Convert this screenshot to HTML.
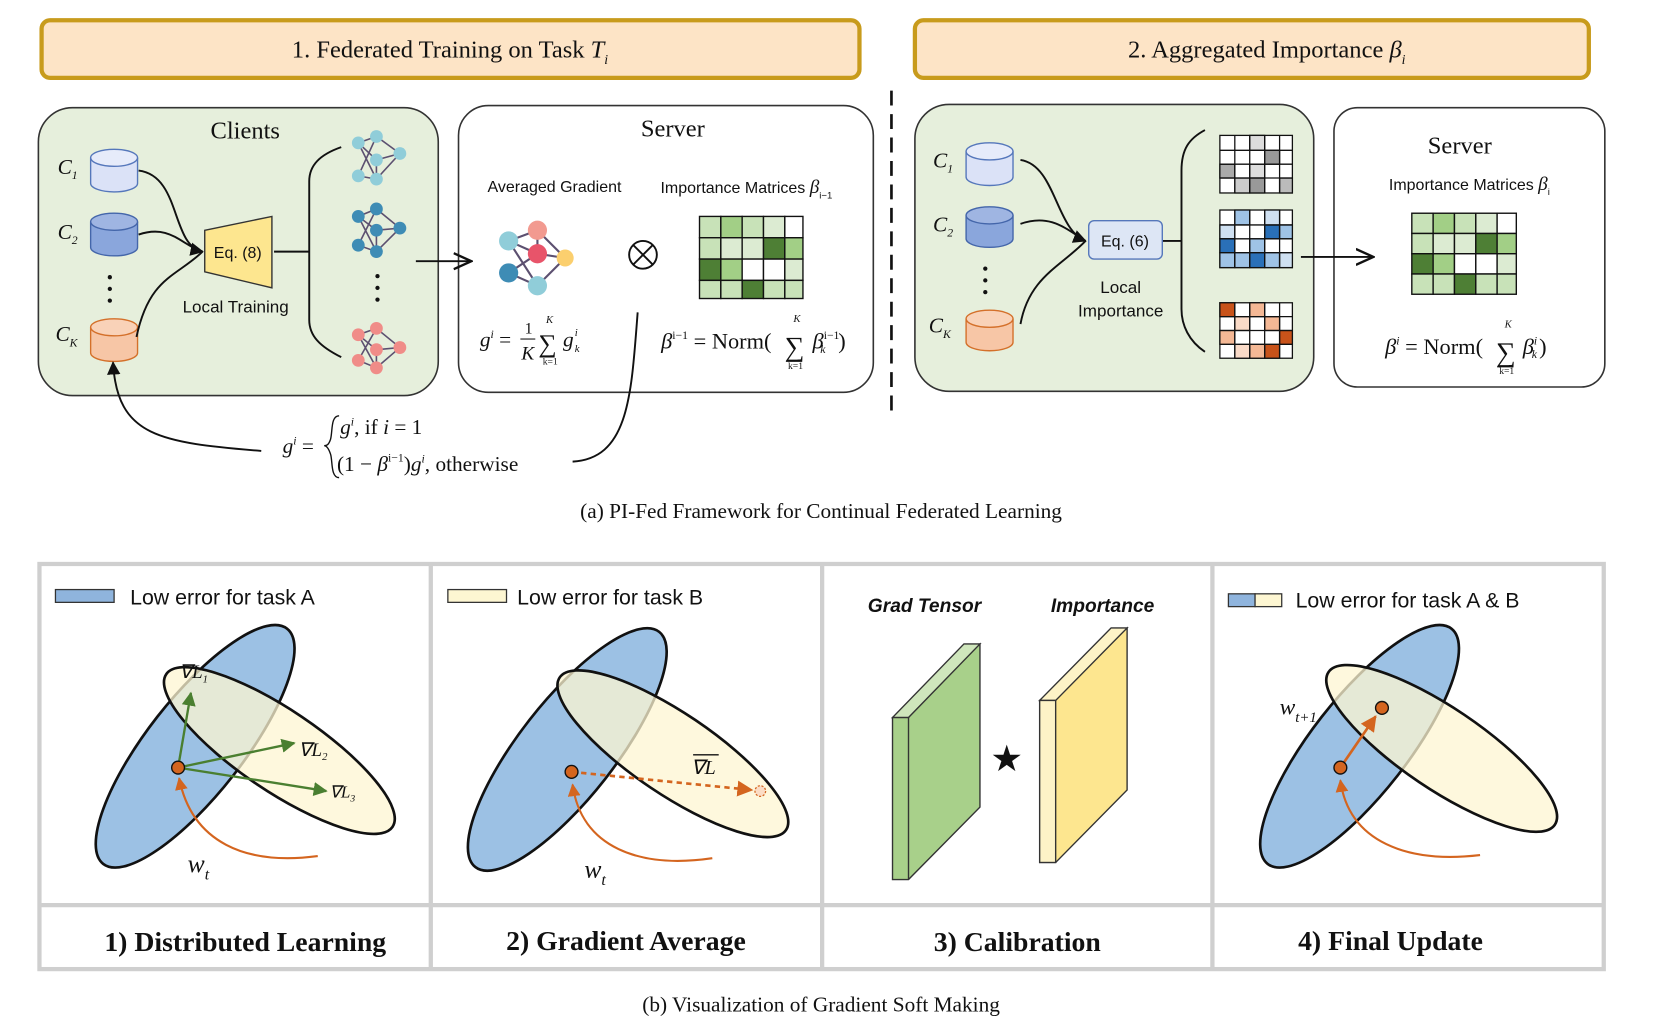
<!DOCTYPE html>
<html><head><meta charset="utf-8"><style>
html,body{margin:0;padding:0;background:#fff;}
svg{display:block;}
text{font-family:"Liberation Serif",serif;fill:#111;}
.s{font-family:"Liberation Sans",sans-serif;}
</style></head><body>
<svg width="1672" height="1032" viewBox="0 0 1568 968" preserveAspectRatio="none" xmlns="http://www.w3.org/2000/svg">
<defs>
<marker id="ah" viewBox="0 0 10 10" refX="9" refY="5" markerWidth="7" markerHeight="7" orient="auto"><path d="M0,0L10,5L0,10z" fill="#111"/></marker>
<marker id="ao" viewBox="0 0 10 10" refX="9" refY="5" markerWidth="6" markerHeight="6" orient="auto"><path d="M0,0L10,5L0,10z" fill="#d4651f"/></marker>
<marker id="ag" viewBox="0 0 10 10" refX="9" refY="5" markerWidth="6" markerHeight="6" orient="auto"><path d="M0,0L10,5L0,10z" fill="#4a7f30"/></marker>
<marker id="oa" viewBox="0 0 12 10" refX="11" refY="5" markerWidth="10" markerHeight="10" orient="auto"><path d="M0,0L11,5L0,10" fill="none" stroke="#111" stroke-width="1.5"/></marker>
</defs>
<!-- headers -->
<rect x="39" y="19" width="767" height="54" rx="8" fill="#fde4c6" stroke="#c89b1c" stroke-width="4"/>
<text x="422" y="54" font-size="23" text-anchor="middle">1. Federated Training on Task <tspan font-style="italic">T</tspan><tspan font-style="italic" font-size="13" dy="6">i</tspan></text>
<rect x="858" y="19" width="632" height="54" rx="8" fill="#fde4c6" stroke="#c89b1c" stroke-width="4"/>
<text x="1188" y="54" font-size="23" text-anchor="middle">2. Aggregated Importance <tspan font-style="italic">β</tspan><tspan font-style="italic" font-size="13" dy="6">i</tspan></text>
<line x1="836" y1="85" x2="836" y2="390" stroke="#111" stroke-width="2.5" stroke-dasharray="14,8"/>

<!-- clients box -->
<rect x="36" y="101" width="375" height="270" rx="32" fill="#e6efdc" stroke="#333" stroke-width="1.5"/>
<text x="230" y="130" font-size="23" text-anchor="middle">Clients</text>
<g font-style="italic" font-size="20">
<text x="54" y="163">C<tspan font-size="11" dy="5">1</tspan></text>
<text x="54" y="224">C<tspan font-size="11" dy="5">2</tspan></text>
<text x="52" y="320">C<tspan font-size="11" dy="5">K</tspan></text>
</g>
<g stroke-width="1.3">
<path d="M85,148v24a22,8 0 0 0 44,0v-24" fill="#dbe2f7" stroke="#5577bb"/><ellipse cx="107" cy="148" rx="22" ry="8" fill="#e6ebfa" stroke="#5577bb"/>
<path d="M85,208v24a22,8 0 0 0 44,0v-24" fill="#8aa6dc" stroke="#4466aa"/><ellipse cx="107" cy="208" rx="22" ry="8" fill="#9fb5e2" stroke="#4466aa"/>
<path d="M85,307v24a22,8 0 0 0 44,0v-24" fill="#f7c6a6" stroke="#d4702a"/><ellipse cx="107" cy="307" rx="22" ry="8" fill="#f9d2b8" stroke="#d4702a"/>
</g>
<g fill="#111"><circle cx="103" cy="260" r="2"/><circle cx="103" cy="271" r="2"/><circle cx="103" cy="282" r="2"/></g>
<g fill="none" stroke="#111" stroke-width="1.8">
<path d="M130,160C170,165 160,230 190,236" marker-end="url(#ah)"/>
<path d="M130,220C160,210 170,230 190,236"/>
<path d="M128,316C140,260 165,260 190,236"/>
<line x1="257" y1="236" x2="290" y2="236"/>
<path d="M320,138C300,145 290,155 290,170V300C290,315 300,325 320,335"/>
</g>
<polygon points="192,216 255,203 255,270 192,255" fill="#fde68f" stroke="#333" stroke-width="1.3"/>
<text x="223" y="242" font-size="15" class="s" text-anchor="middle">Eq. (8)</text>
<text x="221" y="293" font-size="16" class="s" fill="#333" text-anchor="middle">Local Training</text>
<!-- networks -->
<g stroke="#5c5070" stroke-width="1.5" fill="none">
<path d="M336,134L353,128L336,165L353,168L336,134L353,150L375,144L353,128M353,150L353,168L375,144"/>
<path d="M336,203L353,196L336,230L353,236L336,203L353,216L375,214L353,196M353,216L353,236L375,214"/>
<path d="M336,314L353,308L336,338L353,345L336,314L353,328L375,326L353,308M353,328L353,345L375,326"/>
</g>
<g fill="#90cdd9"><circle cx="336" cy="134" r="6"/><circle cx="353" cy="128" r="6"/><circle cx="336" cy="165" r="6"/><circle cx="353" cy="168" r="6"/><circle cx="353" cy="150" r="6"/><circle cx="375" cy="144" r="6"/></g>
<g fill="#3e8cb5"><circle cx="336" cy="203" r="6"/><circle cx="353" cy="196" r="6"/><circle cx="336" cy="230" r="6"/><circle cx="353" cy="236" r="6"/><circle cx="353" cy="216" r="6"/><circle cx="375" cy="214" r="6"/></g>
<g fill="#f08c88"><circle cx="336" cy="314" r="6"/><circle cx="353" cy="308" r="6"/><circle cx="336" cy="338" r="6"/><circle cx="353" cy="345" r="6"/><circle cx="353" cy="328" r="6"/><circle cx="375" cy="326" r="6"/></g>
<g fill="#111"><circle cx="354" cy="259" r="2"/><circle cx="354" cy="270" r="2"/><circle cx="354" cy="281" r="2"/></g>

<!-- server box -->
<rect x="430" y="99" width="389" height="269" rx="28" fill="#fff" stroke="#333" stroke-width="1.5"/>
<line x1="390" y1="245" x2="442" y2="245" stroke="#111" stroke-width="1.8" marker-end="url(#oa)"/>
<text x="631" y="128" font-size="23" text-anchor="middle">Server</text>
<text x="520" y="180" font-size="15" class="s" text-anchor="middle">Averaged Gradient</text>
<text x="700" y="181" font-size="15" class="s" text-anchor="middle">Importance Matrices <tspan font-family="Liberation Serif" font-style="italic" font-size="18">β</tspan><tspan font-size="9" dy="5">i−1</tspan></text>
<g stroke="#5c5070" stroke-width="2" fill="none"><path d="M477,226L504,216L504,238L477,256L504,268L530,242L504,216M477,226L504,268M477,256L504,238L530,242M477,226L504,238"/></g>
<circle cx="477" cy="226" r="9" fill="#90cdd9"/><circle cx="504" cy="216" r="9" fill="#f29a90"/><circle cx="504" cy="238" r="9" fill="#e8546a"/><circle cx="530" cy="242" r="8" fill="#fbcf6e"/><circle cx="477" cy="256" r="9" fill="#3e8cb5"/><circle cx="504" cy="268" r="9" fill="#90cdd9"/>
<circle cx="603" cy="239" r="13" fill="none" stroke="#111" stroke-width="1.8"/><path d="M594,230L612,248M612,230L594,248" stroke="#111" stroke-width="1.8"/>
<g stroke="#111" stroke-width="1.3">
<rect x="656" y="203" width="20" height="20" fill="#c8e2b8"/><rect x="676" y="203" width="20" height="20" fill="#a2cf86"/><rect x="696" y="203" width="20" height="20" fill="#c8e2b8"/><rect x="716" y="203" width="20" height="20" fill="#dcebd2"/><rect x="736" y="203" width="17" height="20" fill="#fff"/>
<rect x="656" y="223" width="20" height="20" fill="#c8e2b8"/><rect x="676" y="223" width="20" height="20" fill="#dcebd2"/><rect x="696" y="223" width="20" height="20" fill="#dcebd2"/><rect x="716" y="223" width="20" height="20" fill="#4e7f35"/><rect x="736" y="223" width="17" height="20" fill="#a2cf86"/>
<rect x="656" y="243" width="20" height="20" fill="#4e7f35"/><rect x="676" y="243" width="20" height="20" fill="#a2cf86"/><rect x="696" y="243" width="20" height="20" fill="#fff"/><rect x="716" y="243" width="20" height="20" fill="#fff"/><rect x="736" y="243" width="17" height="20" fill="#dcebd2"/>
<rect x="656" y="263" width="20" height="17" fill="#c8e2b8"/><rect x="676" y="263" width="20" height="17" fill="#c8e2b8"/><rect x="696" y="263" width="20" height="17" fill="#4e7f35"/><rect x="716" y="263" width="20" height="17" fill="#c8e2b8"/><rect x="736" y="263" width="17" height="17" fill="#c8e2b8"/>
</g>
<text x="450" y="325" font-size="20"><tspan font-style="italic">g</tspan><tspan font-size="11" dy="-8" font-style="italic">i</tspan><tspan dy="8"> = </tspan></text>
<text x="492" y="313" font-size="15">1</text><line x1="488" y1="318" x2="502" y2="318" stroke="#111"/><text x="489" y="337" font-size="18" font-style="italic">K</text>
<text x="505" y="330" font-size="24">∑</text><text x="512" y="303" font-size="10" font-style="italic">K</text><text x="509" y="342" font-size="9">k=1</text>
<text x="528" y="325" font-size="20" font-style="italic">g</text><text x="539" y="315" font-size="10" font-style="italic">i</text><text x="539" y="330" font-size="10" font-style="italic">k</text>
<text x="620" y="327" font-size="21"><tspan font-style="italic">β</tspan><tspan font-size="11" dy="-9">i−1</tspan><tspan dy="9"> = Norm(</tspan></text>
<text x="736" y="334" font-size="26">∑</text><text x="744" y="302" font-size="10" font-style="italic">K</text><text x="739" y="346" font-size="9">k=1</text>
<text x="762" y="327" font-size="21"><tspan font-style="italic">β</tspan><tspan font-size="11" dy="-9">i−1</tspan><tspan font-size="11" dy="13" dx="-18" font-style="italic">k</tspan><tspan dy="-4" dx="12">)</tspan></text>
<!-- feedback -->
<g fill="none" stroke="#111" stroke-width="1.8">
<path d="M598,293C592,370 590,430 537,433"/>
<path d="M245,423C150,415 110,410 106,340" marker-end="url(#ah)"/>
</g>
<text x="265" y="425" font-size="20"><tspan font-style="italic">g</tspan><tspan font-size="11" dy="-8" font-style="italic">i</tspan><tspan dy="8"> =</tspan></text>
<path d="M318,390C310,390 312,405 310,412C308,418 306,418 304,418C306,418 308,420 310,426C312,432 310,448 318,448" fill="none" stroke="#111" stroke-width="1.3"/>
<text x="319" y="407" font-size="20"><tspan font-style="italic">g</tspan><tspan font-size="11" dy="-8" font-style="italic">i</tspan><tspan dy="8">,    if </tspan><tspan font-style="italic">i</tspan> = 1</text>
<text x="316" y="442" font-size="20">(1 − <tspan font-style="italic">β</tspan><tspan font-size="11" dy="-9">i−1</tspan><tspan dy="9">)</tspan><tspan font-style="italic">g</tspan><tspan font-size="11" dy="-8" font-style="italic">i</tspan><tspan dy="8">,    otherwise</tspan></text>
<text x="770" y="486" font-size="20" text-anchor="middle">(a)  PI-Fed Framework for Continual Federated Learning</text>

<!-- right green box -->
<rect x="858" y="98" width="374" height="269" rx="32" fill="#e6efdc" stroke="#333" stroke-width="1.5"/>
<g font-style="italic" font-size="20">
<text x="875" y="157">C<tspan font-size="11" dy="5">1</tspan></text>
<text x="875" y="217">C<tspan font-size="11" dy="5">2</tspan></text>
<text x="871" y="312">C<tspan font-size="11" dy="5">K</tspan></text>
</g>
<g stroke-width="1.3">
<path d="M906,142v24a22,8 0 0 0 44,0v-24" fill="#dbe2f7" stroke="#5577bb"/><ellipse cx="928" cy="142" rx="22" ry="8" fill="#e6ebfa" stroke="#5577bb"/>
<path d="M906,202v22a22,8 0 0 0 44,0v-22" fill="#8aa6dc" stroke="#4466aa"/><ellipse cx="928" cy="202" rx="22" ry="8" fill="#9fb5e2" stroke="#4466aa"/>
<path d="M906,299v22a22,8 0 0 0 44,0v-22" fill="#f7c6a6" stroke="#d4702a"/><ellipse cx="928" cy="299" rx="22" ry="8" fill="#f9d2b8" stroke="#d4702a"/>
</g>
<g fill="#111"><circle cx="924" cy="252" r="2"/><circle cx="924" cy="263" r="2"/><circle cx="924" cy="274" r="2"/></g>
<g fill="none" stroke="#111" stroke-width="1.8">
<path d="M957,150C990,155 990,215 1018,226" marker-end="url(#ah)"/>
<path d="M957,210C985,200 1000,215 1018,226"/>
<path d="M957,304C965,260 995,250 1018,226"/>
<line x1="1090" y1="226" x2="1108" y2="226"/>
<path d="M1130,122C1115,130 1108,140 1108,160V290C1108,305 1115,320 1130,330"/>
</g>
<rect x="1021" y="207" width="69" height="36" rx="5" fill="#dde6f5" stroke="#5577bb" stroke-width="1.3"/>
<text x="1055" y="231" font-size="15" class="s" text-anchor="middle">Eq. (6)</text>
<text x="1051" y="275" font-size="16" class="s" fill="#333" text-anchor="middle">Local</text>
<text x="1051" y="297" font-size="16" class="s" fill="#333" text-anchor="middle">Importance</text>
<!-- small grids -->
<g stroke="#111" stroke-width="1.2">
<rect x="1144" y="127" width="68" height="54" fill="#fff"/>
<rect x="1186" y="141" width="14" height="13" fill="#999"/><rect x="1144" y="154" width="14" height="13" fill="#aaa"/><rect x="1172" y="154" width="14" height="13" fill="#ddd"/><rect x="1158" y="167" width="14" height="14" fill="#ccc"/><rect x="1172" y="167" width="14" height="14" fill="#999"/><rect x="1200" y="167" width="12" height="14" fill="#bbb"/><rect x="1172" y="127" width="14" height="14" fill="#ddd"/>
<rect x="1144" y="197" width="68" height="54" fill="#fff"/>
<rect x="1158" y="197" width="14" height="14" fill="#9fc3e6"/><rect x="1144" y="211" width="14" height="13" fill="#cfe0f1"/><rect x="1186" y="211" width="14" height="13" fill="#2a70b8"/><rect x="1200" y="211" width="12" height="13" fill="#9fc3e6"/><rect x="1144" y="224" width="14" height="13" fill="#2a70b8"/><rect x="1172" y="224" width="14" height="13" fill="#9fc3e6"/><rect x="1144" y="237" width="14" height="14" fill="#9fc3e6"/><rect x="1158" y="237" width="14" height="14" fill="#9fc3e6"/><rect x="1172" y="237" width="14" height="14" fill="#2a70b8"/><rect x="1186" y="237" width="14" height="14" fill="#9fc3e6"/><rect x="1200" y="237" width="12" height="14" fill="#cfe0f1"/><rect x="1186" y="197" width="14" height="14" fill="#cfe0f1"/>
<rect x="1144" y="284" width="68" height="52" fill="#fff"/>
<rect x="1144" y="284" width="14" height="13" fill="#c8531a"/><rect x="1172" y="284" width="14" height="13" fill="#f4b895"/><rect x="1158" y="297" width="14" height="13" fill="#fadbc8"/><rect x="1186" y="297" width="14" height="13" fill="#f4b895"/><rect x="1144" y="310" width="14" height="13" fill="#f4b895"/><rect x="1200" y="310" width="12" height="13" fill="#c8531a"/><rect x="1172" y="323" width="14" height="13" fill="#f4b895"/><rect x="1186" y="323" width="14" height="13" fill="#c8531a"/><rect x="1158" y="323" width="14" height="13" fill="#fadbc8"/>
<path d="M1158,127V181M1172,127V181M1186,127V181M1200,127V181M1144,141H1212M1144,154H1212M1144,167H1212"/>
<path d="M1158,197V251M1172,197V251M1186,197V251M1200,197V251M1144,211H1212M1144,224H1212M1144,237H1212"/>
<path d="M1158,284V336M1172,284V336M1186,284V336M1200,284V336M1144,297H1212M1144,310H1212M1144,323H1212"/>
</g>
<!-- server 2 -->
<rect x="1251" y="101" width="254" height="262" rx="22" fill="#fff" stroke="#333" stroke-width="1.5"/>
<line x1="1220" y1="241" x2="1288" y2="241" stroke="#111" stroke-width="1.8" marker-end="url(#oa)"/>
<text x="1369" y="144" font-size="23" text-anchor="middle">Server</text>
<text x="1378" y="178" font-size="15" class="s" text-anchor="middle">Importance Matrices <tspan font-family="Liberation Serif" font-style="italic" font-size="18">β</tspan><tspan font-size="9" dy="5">i</tspan></text>
<g stroke="#111" stroke-width="1.3">
<rect x="1324" y="200" width="20" height="19" fill="#c8e2b8"/><rect x="1344" y="200" width="20" height="19" fill="#a2cf86"/><rect x="1364" y="200" width="20" height="19" fill="#c8e2b8"/><rect x="1384" y="200" width="20" height="19" fill="#dcebd2"/><rect x="1404" y="200" width="18" height="19" fill="#fff"/>
<rect x="1324" y="219" width="20" height="19" fill="#c8e2b8"/><rect x="1344" y="219" width="20" height="19" fill="#dcebd2"/><rect x="1364" y="219" width="20" height="19" fill="#dcebd2"/><rect x="1384" y="219" width="20" height="19" fill="#4e7f35"/><rect x="1404" y="219" width="18" height="19" fill="#a2cf86"/>
<rect x="1324" y="238" width="20" height="19" fill="#4e7f35"/><rect x="1344" y="238" width="20" height="19" fill="#a2cf86"/><rect x="1364" y="238" width="20" height="19" fill="#fff"/><rect x="1384" y="238" width="20" height="19" fill="#fff"/><rect x="1404" y="238" width="18" height="19" fill="#dcebd2"/>
<rect x="1324" y="257" width="20" height="19" fill="#c8e2b8"/><rect x="1344" y="257" width="20" height="19" fill="#c8e2b8"/><rect x="1364" y="257" width="20" height="19" fill="#4e7f35"/><rect x="1384" y="257" width="20" height="19" fill="#c8e2b8"/><rect x="1404" y="257" width="18" height="19" fill="#c8e2b8"/>
</g>
<text x="1299" y="332" font-size="21"><tspan font-style="italic">β</tspan><tspan font-size="11" dy="-9" font-style="italic">i</tspan><tspan dy="9"> = Norm(</tspan></text>
<text x="1403" y="339" font-size="26">∑</text><text x="1411" y="307" font-size="10" font-style="italic">K</text><text x="1406" y="351" font-size="9">k=1</text>
<text x="1428" y="332" font-size="21"><tspan font-style="italic">β</tspan><tspan font-size="11" dy="-9" font-style="italic">i</tspan><tspan font-size="11" dy="13" dx="-5" font-style="italic">k</tspan><tspan dy="-4" dx="2">)</tspan></text>

<!-- bottom panels -->
<rect x="37" y="529" width="1467" height="380" fill="#fff" stroke="#cfcfcf" stroke-width="4"/>
<g stroke="#cfcfcf" stroke-width="4"><line x1="404" y1="529" x2="404" y2="909"/><line x1="771" y1="529" x2="771" y2="909"/><line x1="1137" y1="529" x2="1137" y2="909"/><line x1="37" y1="849" x2="1504" y2="849"/></g>
<g font-size="20" class="s">
<rect x="52" y="553" width="55" height="12" fill="#8fb4dd" stroke="#333" stroke-width="1.2"/><text x="122" y="567" class="s">Low error for task A</text>
<rect x="420" y="553" width="55" height="12" fill="#fdf6d2" stroke="#333" stroke-width="1.2"/><text x="485" y="567" class="s">Low error for task B</text>
<rect x="1152" y="557" width="25" height="12" fill="#8fb4dd" stroke="#333" stroke-width="1.2"/><rect x="1177" y="557" width="25" height="12" fill="#fdf6d2" stroke="#333" stroke-width="1.2"/><text x="1215" y="570" class="s">Low error for task A &amp; B</text>
</g>
<g font-size="26" font-weight="bold" text-anchor="middle">
<text x="230" y="892">1) Distributed Learning</text>
<text x="587" y="891">2) Gradient Average</text>
<text x="954" y="892">3)  Calibration</text>
<text x="1304" y="891">4) Final Update</text>
</g>
<text x="770" y="949" font-size="20" text-anchor="middle">(b)  Visualization of Gradient Soft Making</text>

<!-- panel1 -->
<ellipse cx="183" cy="700" rx="140" ry="45" transform="rotate(-52 183 700)" fill="#9cc1e4" stroke="#111" stroke-width="2.5"/>
<ellipse cx="262" cy="704" rx="128" ry="38" transform="rotate(34 262 704)" fill="#fdf6d2" fill-opacity="0.75" stroke="#111" stroke-width="2.5"/>
<path d="M298,803C230,812 180,790 168,730" fill="none" stroke="#d4651f" stroke-width="2" marker-end="url(#ao)"/>
<g stroke="#4a7f30" stroke-width="2.2" fill="none">
<line x1="167" y1="720" x2="179" y2="650" marker-end="url(#ag)"/>
<line x1="167" y1="720" x2="276" y2="697" marker-end="url(#ag)"/>
<line x1="167" y1="720" x2="306" y2="742" marker-end="url(#ag)"/>
</g>
<circle cx="167" cy="720" r="6" fill="#d4651f" stroke="#111" stroke-width="1.3"/>
<text x="168" y="636" font-size="18" font-style="italic">∇L<tspan font-size="10" dy="4">1</tspan></text>
<text x="280" y="709" font-size="18" font-style="italic">∇L<tspan font-size="10" dy="4">2</tspan></text>
<text x="309" y="748" font-size="16" font-style="italic">∇L<tspan font-size="9" dy="4">3</tspan></text>
<text x="176" y="818" font-size="24" font-style="italic">w<tspan font-size="15" dy="7">t</tspan></text>
<!-- panel2 -->
<ellipse cx="532" cy="703" rx="140" ry="45" transform="rotate(-52 532 703)" fill="#9cc1e4" stroke="#111" stroke-width="2.5"/>
<ellipse cx="631" cy="707" rx="128" ry="38" transform="rotate(34 631 707)" fill="#fdf6d2" fill-opacity="0.75" stroke="#111" stroke-width="2.5"/>
<path d="M668,805C600,815 545,795 537,736" fill="none" stroke="#d4651f" stroke-width="2" marker-end="url(#ao)"/>
<line x1="536" y1="724" x2="705" y2="741" stroke="#d4651f" stroke-width="2.5" stroke-dasharray="5,4" marker-end="url(#ao)"/>
<circle cx="536" cy="724" r="6" fill="#d4651f" stroke="#111" stroke-width="1.3"/>
<circle cx="713" cy="742" r="5" fill="#fbdcc4" stroke="#d4651f" stroke-width="1.2" stroke-dasharray="2,1.5"/>
<text x="648" y="726" font-size="19" font-style="italic">∇L</text><line x1="650" y1="708" x2="674" y2="708" stroke="#111" stroke-width="1.3"/>
<text x="548" y="823" font-size="24" font-style="italic">w<tspan font-size="15" dy="7">t</tspan></text>
<!-- panel3 -->
<text x="867" y="574" font-size="18" font-style="italic" font-weight="bold" class="s" text-anchor="middle" fill="#222">Grad Tensor</text>
<text x="1034" y="574" font-size="18" font-style="italic" font-weight="bold" class="s" text-anchor="middle" fill="#222">Importance</text>
<polygon points="837,673 919,604 919,757 852,825 837,825" fill="#a8d08a" stroke="#333" stroke-width="1.3"/>
<polygon points="837,673 852,673 919,604 904,604" fill="#cfe6bc" stroke="#333" stroke-width="1.3"/>
<line x1="852" y1="673" x2="852" y2="825" stroke="#333" stroke-width="1.3"/>
<polygon points="975,657 1057,589 1057,741 990,809 975,809" fill="#fde68f" stroke="#333" stroke-width="1.3"/>
<polygon points="975,657 990,657 1057,589 1042,589" fill="#fdf3c7" stroke="#333" stroke-width="1.3"/>
<rect x="975" y="657" width="15" height="152" fill="#fdf3c7" stroke="#333" stroke-width="1.3"/>
<text x="944" y="723" font-size="34" text-anchor="middle">★</text>
<!-- panel4 -->
<ellipse cx="1275" cy="700" rx="140" ry="45" transform="rotate(-52 1275 700)" fill="#9cc1e4" stroke="#111" stroke-width="2.5"/>
<ellipse cx="1352" cy="702" rx="128" ry="38" transform="rotate(34 1352 702)" fill="#fdf6d2" fill-opacity="0.75" stroke="#111" stroke-width="2.5"/>
<path d="M1388,802C1320,810 1265,790 1257,732" fill="none" stroke="#d4651f" stroke-width="2" marker-end="url(#ao)"/>
<line x1="1257" y1="720" x2="1290" y2="672" stroke="#d4651f" stroke-width="2.5" marker-end="url(#ao)"/>
<circle cx="1257" cy="720" r="6" fill="#d4651f" stroke="#111" stroke-width="1.3"/>
<circle cx="1296" cy="664" r="6" fill="#d4651f" stroke="#111" stroke-width="1.3"/>
<text x="1200" y="670" font-size="22" font-style="italic">w<tspan font-size="14" dy="7">t+1</tspan></text>
</svg>
</body></html>
